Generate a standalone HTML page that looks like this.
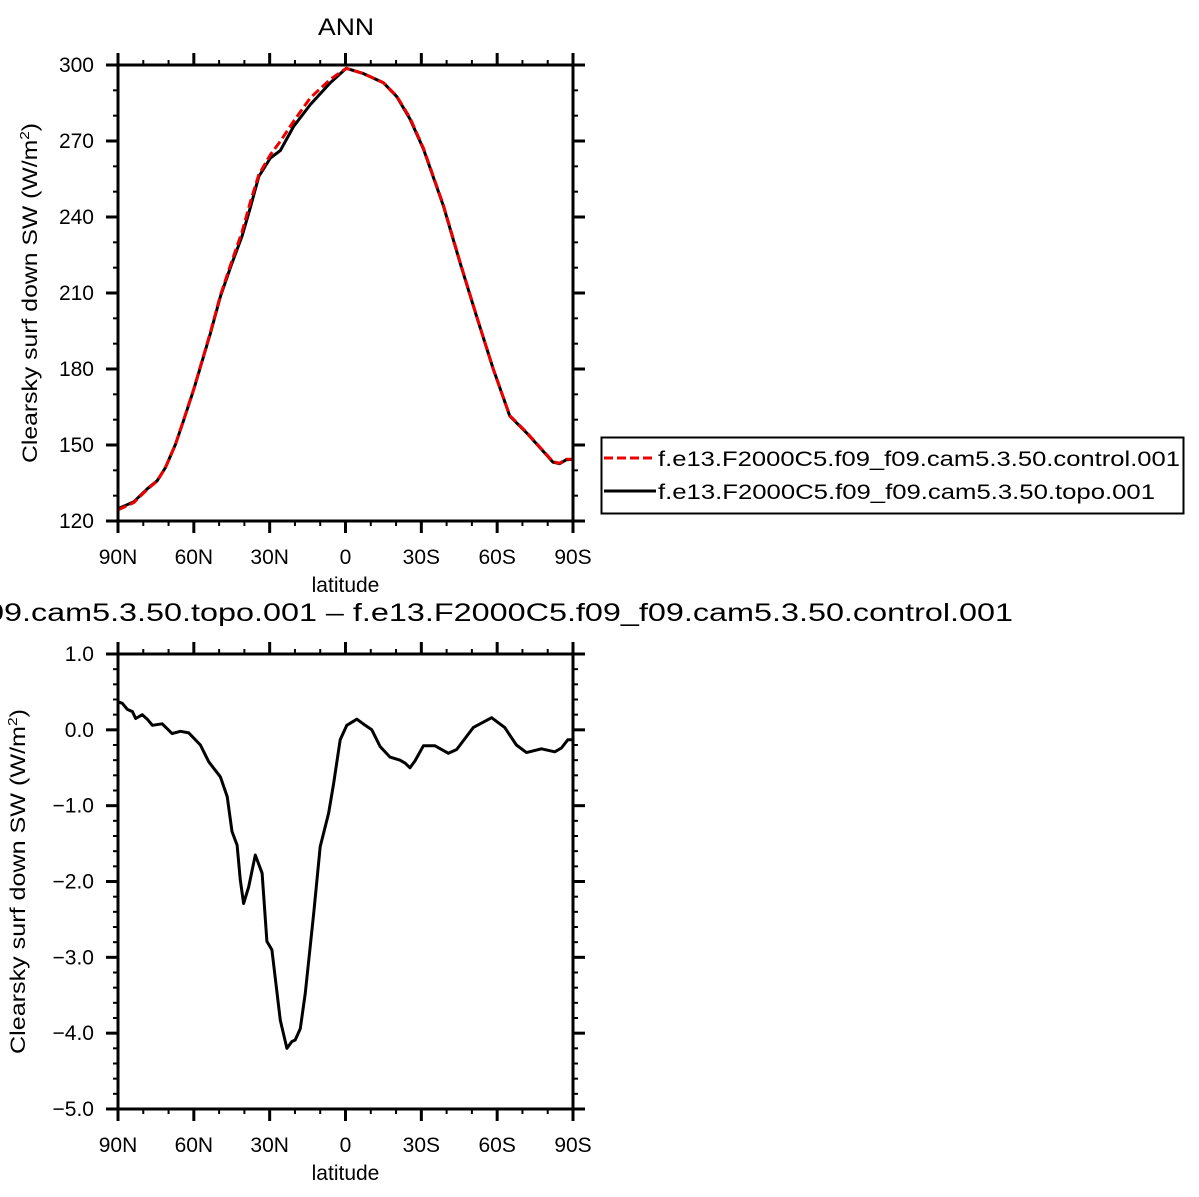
<!DOCTYPE html>
<html><head><meta charset="utf-8"><style>
html,body{margin:0;padding:0;background:#fff;}
svg{display:block;font-family:"Liberation Sans","DejaVu Sans",sans-serif;}
</style></head><body>
<svg id="chart" width="1199" height="1197" viewBox="0 0 1199 1197" xmlns="http://www.w3.org/2000/svg">
<text x="346" y="35" font-size="24" text-anchor="middle" textLength="56" lengthAdjust="spacingAndGlyphs">ANN</text>
<text x="-309" y="621" font-size="25" textLength="1322" lengthAdjust="spacingAndGlyphs">f.e13.F2000C5.f09_f09.cam5.3.50.topo.001 – f.e13.F2000C5.f09_f09.cam5.3.50.control.001</text>
<g id="top"></g>
<g id="bot"></g>
<g>
<rect x="601.5" y="437.5" width="582" height="76" fill="#fff" stroke="#000" stroke-width="2"/>
<line x1="604" y1="458" x2="656" y2="458" stroke="#e00" stroke-width="3" stroke-dasharray="9,4"/>
<text x="658" y="466" font-size="21" textLength="522" lengthAdjust="spacingAndGlyphs">f.e13.F2000C5.f09_f09.cam5.3.50.control.001</text>
<line x1="604" y1="491" x2="656" y2="491" stroke="#000" stroke-width="3"/>
<text x="658" y="499" font-size="21" textLength="497" lengthAdjust="spacingAndGlyphs">f.e13.F2000C5.f09_f09.cam5.3.50.topo.001</text>
</g>
</svg>
<script>
const ctlLat=[90,83.7,78.4,74.5,71.2,67.2,63.9,60,53.4,49.5,45.5,40.9,37.6,34.3,29.7,25.8,20.5,13.9,6,-0.3,-7.1,-15,-20.3,-25.5,-30.8,-38.7,-45.3,-51.8,-58.4,-65,-71.6,-78.2,-82.1,-84.7,-87.4,-90];
const ctlVal=[124.4,127.3,132.5,135.8,141.1,150.4,160.3,172.2,194.6,209.1,221,234.2,246.1,256.7,264.6,269.9,277.8,287.1,294.3,298.7,296.6,293,287.7,279.1,267.2,244.8,222.3,201.2,180.1,161.6,155,147.7,143.4,142.8,144.4,144.4];
const topoLat=[90,83.7,78.4,74.5,71.2,67.2,63.9,60,53.4,49.5,45.5,40.9,37.6,34.3,29.7,25.8,20.5,13.9,6,-0.3,-7.1,-15,-20.3,-25.5,-30.8,-38.7,-45.3,-51.8,-58.4,-65,-71.6,-78.2,-82.1,-84.7,-87.4,-90];
const topoVal=[124.8,127.6,132.7,135.9,141.1,150.4,160.2,172,194.2,208.6,220.2,232.5,244,256,263.3,266.2,275.8,284.4,293,298.7,296.6,293,287.5,278.7,266.9,244.5,222,201,180.2,161.4,154.8,147.5,143.2,142.6,144.2,144.3];
const diffLat=[90,88.3,86.3,84.3,83,80.4,78.4,76.4,72.5,68.6,65.3,62,57.4,54.1,49.5,46.8,44.9,42.9,41.6,40.3,38.3,35.7,33,31.1,29.1,25.8,23.2,21.2,19.9,17.9,15.9,12.6,10,6.7,4.7,2.1,-0.5,-4.5,-7.8,-10.4,-13.7,-17.6,-21.6,-23.6,-25.5,-27.5,-30.8,-35.4,-40.7,-44,-50.5,-57.8,-63,-67.6,-71.6,-77.5,-82.8,-85.4,-88,-90];
const diffVal=[0.37,0.35,0.27,0.24,0.15,0.2,0.14,0.06,0.08,-0.05,-0.02,-0.04,-0.2,-0.42,-0.62,-0.88,-1.34,-1.52,-1.98,-2.29,-2.07,-1.65,-1.89,-2.79,-2.9,-3.83,-4.2,-4.11,-4.09,-3.94,-3.47,-2.42,-1.54,-1.1,-0.71,-0.13,0.06,0.14,0.06,0,-0.22,-0.36,-0.4,-0.44,-0.5,-0.41,-0.21,-0.21,-0.31,-0.26,0.03,0.16,0.03,-0.2,-0.3,-0.25,-0.29,-0.24,-0.13,-0.13];
const xTickVals=[90,60,30,0,-30,-60,-90];
const xTickLabels=["90N","60N","30N","0","30S","60S","90S"];
const topTicks=[300,270,240,210,180,150,120];
const topTickLabels=["300","270","240","210","180","150","120"];
const botTicks=[1,0,-1,-2,-3,-4,-5];
const botTickLabels=["1.0","0.0","−1.0","−2.0","−3.0","−4.0","−5.0"];
const NS="http://www.w3.org/2000/svg";
function mk(p,tag,a){const e=document.createElementNS(NS,tag);for(const k in a)e.setAttribute(k,a[k]);p.appendChild(e);return e;}
function panel(g,top,bot,ymin,ymax,yt,ytl,minorStep,ylabX,ylabLen,series,prefix){
  const L=118,R=573;
  const sx=v=>L+(90-v)/180*(R-L);
  const sy=v=>bot-(v-ymin)/(ymax-ymin)*(bot-top);
  for(let v=90;v>=-90;v-=10){const x=sx(v);const maj=(v%30===0);const l=maj?12:5;
    let t=mk(g,'line',{x1:x,y1:bot,x2:x,y2:bot+l,stroke:'#000','stroke-width':maj?3:2});
    
    t=mk(g,'line',{x1:x,y1:top,x2:x,y2:top-l,stroke:'#000','stroke-width':maj?3:2});
    }
  const n=Math.round((ymax-ymin)/minorStep);
  for(let i=0;i<=n;i++){const v=ymin+i*minorStep;const y=sy(v);
    const maj=yt.some(t=>Math.abs(t-v)<1e-6);const l=maj?12:5;
    let t=mk(g,'line',{x1:L,y1:y,x2:L-l,y2:y,stroke:'#000','stroke-width':maj?3:2});
    
    t=mk(g,'line',{x1:R,y1:y,x2:R+l,y2:y,stroke:'#000','stroke-width':maj?3:2});
    }
  xTickVals.forEach((v,i)=>{const t=mk(g,'text',{x:sx(v),y:bot+43,'font-size':21,'text-anchor':'middle'});t.textContent=xTickLabels[i];
    });
  yt.forEach((v,i)=>{const t=mk(g,'text',{x:L-24,y:sy(v)+7,'font-size':21,'text-anchor':'end'});t.textContent=ytl[i];
    });
  let t=mk(g,'text',{x:(L+R)/2,y:bot+71,'font-size':21,'text-anchor':'middle'});t.textContent='latitude';
  
  const cy=(top+bot)/2;
  t=mk(g,'text',{x:ylabX-ylabLen/2,y:cy,'font-size':21,textLength:ylabLen,lengthAdjust:'spacingAndGlyphs',transform:`rotate(-90 ${ylabX} ${cy})`});
  t.innerHTML='Clearsky surf down SW (W/m<tspan font-size="13" dy="-8">2</tspan><tspan dy="8">)</tspan>';
  
  series.forEach(s=>{const d=s.lat.map((la,i)=>(i?'L':'M')+sx(la).toFixed(1)+','+sy(s.val[i]).toFixed(1)).join(' ');
    const p=mk(g,'path',{d:d,fill:'none',stroke:s.color,'stroke-width':3,'stroke-linejoin':'round'});
    if(s.dash)p.setAttribute('stroke-dasharray',s.dash);
    });
  const b=mk(g,'rect',{x:L,y:top,width:R-L,height:bot-top,fill:'none',stroke:'#000','stroke-width':3});
  
}
panel(document.getElementById('top'),65,521,120,300,topTicks,topTickLabels,10,37,340,
 [{lat:topoLat,val:topoVal,color:'#000',name:'topo-line'},{lat:ctlLat,val:ctlVal,color:'#e00',dash:'9,4',name:'control-line'}],'top');
panel(document.getElementById('bot'),654,1109,-5,1,botTicks,botTickLabels,0.2,25,345,
 [{lat:diffLat,val:diffVal,color:'#000',name:'difference-line'}],'bottom');
</script>
</body></html>
